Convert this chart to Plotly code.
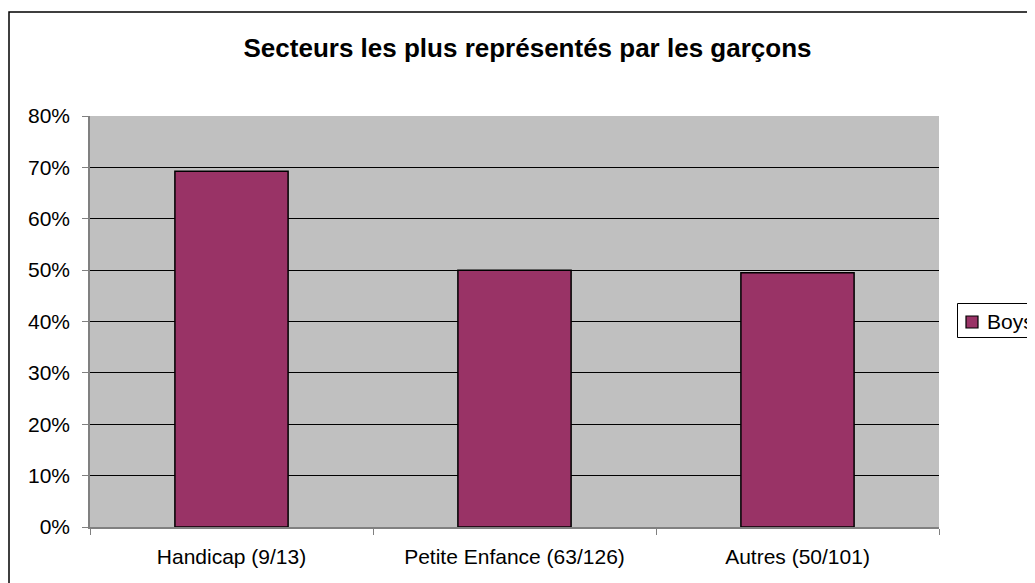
import plotly.graph_objects as go

categories = ["Handicap (9/13)", "Petite Enfance (63/126)", "Autres (50/101)"]
boys = [9/13, 63/126, 50/101]
y_ticks = [0, 0.1, 0.2, 0.3, 0.4, 0.5, 0.6, 0.7, 0.8]
series_name = "Boys"
bar_color = "#993366"

FONT = "Liberation Sans, Arial, sans-serif"
OFF = 8  # page body has an 8px margin
W, H = 1035 - OFF, 583 - OFF
PL, PR, PT, PB = 90, 939, 116, 527  # plot area in screen pixels


def fx(px):
    return (px - PL) / (PR - PL)


def fy(py):
    return (PB - py) / (PB - PT)


fig = go.Figure()
fig.add_trace(go.Bar(
    x=categories, y=boys, name=series_name,
    marker=dict(color=bar_color, line=dict(color="#000000", width=1.5)),
    showlegend=False,
))

shapes = [
    # outer chart frame
    dict(type="rect", xref="paper", yref="paper",
         x0=fx(9), x1=fx(1045), y0=fy(600), y1=fy(12),
         line=dict(color="#000000", width=1.5), fillcolor="rgba(0,0,0,0)", layer="below"),
    # legend box
    dict(type="rect", xref="paper", yref="paper",
         x0=fx(957.5), x1=fx(1045), y0=fy(337.5), y1=fy(303.5),
         line=dict(color="#000000", width=1), fillcolor="#ffffff", layer="above"),
    # legend key
    dict(type="rect", xref="paper", yref="paper",
         x0=fx(966), x1=fx(978), y0=fy(328), y1=fy(316),
         line=dict(color="#000000", width=1.2), fillcolor=bar_color, layer="above"),
]

annotations = [
    dict(text=series_name, xref="paper", yref="paper", x=fx(985), y=fy(321),
         xanchor="left", yanchor="middle", showarrow=False,
         font=dict(family=FONT, size=21, color="#000")),
]

fig.update_layout(
    width=W, height=H,
    margin=dict(l=PL - OFF, r=W - (PR - OFF), t=PT - OFF, b=H - (PB - OFF), autoexpand=False),
    paper_bgcolor="#ffffff",
    plot_bgcolor="#c0c0c0",
    bargap=0.6,
    showlegend=False,
    title=dict(text="<b>Secteurs les plus représentés par les garçons</b>",
               xref="container", yref="container",
               x=(527.5 - OFF) / W, xanchor="center",
               y=1 - (48 - OFF) / H, yanchor="middle",
               font=dict(family=FONT, size=26, color="#000")),
    font=dict(family=FONT, size=21, color="#000"),
    xaxis=dict(showline=True, linecolor="#808080", linewidth=1.5,
               ticks="outside", tickson="boundaries", ticklen=6, tickcolor="#808080",
               showgrid=False, tickfont=dict(size=21), ticklabelstandoff=10),
    yaxis=dict(range=[0, 0.8], tickvals=y_ticks, tickformat=".0%",
               showline=True, linecolor="#808080", linewidth=1.5,
               ticks="outside", ticklen=6, tickcolor="#808080",
               showgrid=True, gridcolor="#000000", gridwidth=1,
               zeroline=False, tickfont=dict(size=21), ticklabelstandoff=8),
    shapes=shapes,
    annotations=annotations,
)

fig.write_html("out.html")
